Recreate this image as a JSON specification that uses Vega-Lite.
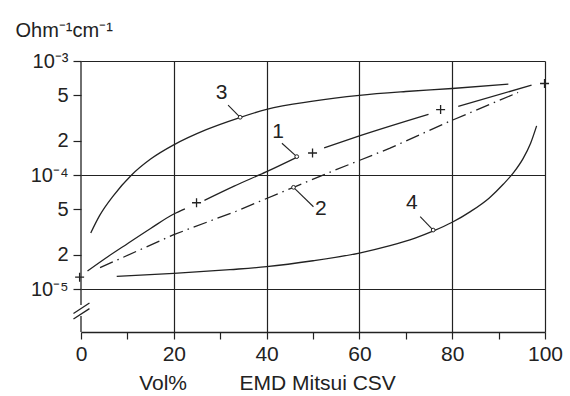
{
  "$schema": "https://vega.github.io/schema/vega-lite/v6.json",
  "width": 464,
  "height": 271,
  "autosize": "none",
  "padding": {"left": 81, "top": 61, "right": 25, "bottom": 64},
  "background": "white",
  "config": {
    "view": {"stroke": null},
    "font": "Liberation Sans",
    "axis": {"labelFont": "Liberation Sans", "titleFont": "Liberation Sans"}
  },
  "datasets": {
    "curves": [
      {"curve": "3", "seg": "3", "x": 2.1, "y": 3.1e-5},
      {"curve": "3", "seg": "3", "x": 4, "y": 4.4e-5},
      {"curve": "3", "seg": "3", "x": 7, "y": 6.6e-5},
      {"curve": "3", "seg": "3", "x": 10.9, "y": 1.0e-4},
      {"curve": "3", "seg": "3", "x": 15, "y": 1.38e-4},
      {"curve": "3", "seg": "3", "x": 20, "y": 1.84e-4},
      {"curve": "3", "seg": "3", "x": 27, "y": 2.5e-4},
      {"curve": "3", "seg": "3", "x": 33.9, "y": 3.16e-4},
      {"curve": "3", "seg": "3", "x": 40, "y": 3.77e-4},
      {"curve": "3", "seg": "3", "x": 50, "y": 4.45e-4},
      {"curve": "3", "seg": "3", "x": 60, "y": 5.0e-4},
      {"curve": "3", "seg": "3", "x": 70, "y": 5.4e-4},
      {"curve": "3", "seg": "3", "x": 80, "y": 5.74e-4},
      {"curve": "3", "seg": "3", "x": 92.1, "y": 6.27e-4},
      {"curve": "1", "seg": "1a", "x": 1.4, "y": 1.44e-5},
      {"curve": "1", "seg": "1a", "x": 6, "y": 1.95e-5},
      {"curve": "1", "seg": "1a", "x": 10, "y": 2.5e-5},
      {"curve": "1", "seg": "1a", "x": 15, "y": 3.4e-5},
      {"curve": "1", "seg": "1a", "x": 20, "y": 4.55e-5},
      {"curve": "1", "seg": "1a", "x": 22.4, "y": 5.05e-5},
      {"curve": "1", "seg": "1b", "x": 26.6, "y": 6.0e-5},
      {"curve": "1", "seg": "1b", "x": 33, "y": 8.0e-5},
      {"curve": "1", "seg": "1b", "x": 40, "y": 1.07e-4},
      {"curve": "1", "seg": "1b", "x": 46.5, "y": 1.43e-4},
      {"curve": "1", "seg": "1c", "x": 52.4, "y": 1.73e-4},
      {"curve": "1", "seg": "1c", "x": 60, "y": 2.2e-4},
      {"curve": "1", "seg": "1c", "x": 74.9, "y": 3.4e-4},
      {"curve": "1", "seg": "1d", "x": 81.3, "y": 4.0e-4},
      {"curve": "1", "seg": "1d", "x": 97.1, "y": 6.14e-4},
      {"curve": "4", "seg": "4", "x": 7.7, "y": 1.29e-5},
      {"curve": "4", "seg": "4", "x": 20, "y": 1.37e-5},
      {"curve": "4", "seg": "4", "x": 32.1, "y": 1.48e-5},
      {"curve": "4", "seg": "4", "x": 40, "y": 1.57e-5},
      {"curve": "4", "seg": "4", "x": 50, "y": 1.77e-5},
      {"curve": "4", "seg": "4", "x": 60, "y": 2.07e-5},
      {"curve": "4", "seg": "4", "x": 66.6, "y": 2.4e-5},
      {"curve": "4", "seg": "4", "x": 72, "y": 2.8e-5},
      {"curve": "4", "seg": "4", "x": 76.1, "y": 3.25e-5},
      {"curve": "4", "seg": "4", "x": 80, "y": 3.85e-5},
      {"curve": "4", "seg": "4", "x": 84, "y": 4.8e-5},
      {"curve": "4", "seg": "4", "x": 88, "y": 6.3e-5},
      {"curve": "4", "seg": "4", "x": 91, "y": 8.3e-5},
      {"curve": "4", "seg": "4", "x": 93.3, "y": 1.06e-4},
      {"curve": "4", "seg": "4", "x": 95.3, "y": 1.4e-4},
      {"curve": "4", "seg": "4", "x": 96.9, "y": 1.9e-4},
      {"curve": "4", "seg": "4", "x": 98.2, "y": 2.7e-4},
      {"curve": "2", "seg": "2", "x": 4.1, "y": 1.54e-5},
      {"curve": "2", "seg": "2", "x": 20, "y": 3.0e-5},
      {"curve": "2", "seg": "2", "x": 33.4, "y": 4.81e-5},
      {"curve": "2", "seg": "2", "x": 45.8, "y": 7.8e-5},
      {"curve": "2", "seg": "2", "x": 54.4, "y": 1.09e-4},
      {"curve": "2", "seg": "2", "x": 66.6, "y": 1.72e-4},
      {"curve": "2", "seg": "2", "x": 79.2, "y": 2.93e-4},
      {"curve": "2", "seg": "2", "x": 94.2, "y": 5.3e-4}
    ],
    "plus": [
      {"x": -0.3, "y": 1.27e-5},
      {"x": 24.9, "y": 5.71e-5},
      {"x": 49.9, "y": 1.56e-4},
      {"x": 77.5, "y": 3.75e-4},
      {"x": 99.9, "y": 6.35e-4}
    ],
    "leaders": [
      {"curve": "3", "x": 31.7, "y": 4.11e-4},
      {"curve": "3", "x": 34.3, "y": 3.21e-4},
      {"curve": "1", "x": 43.3, "y": 1.9e-4},
      {"curve": "1", "x": 46.5, "y": 1.45e-4},
      {"curve": "2", "x": 45.8, "y": 7.8e-5},
      {"curve": "2", "x": 50.1, "y": 5.27e-5},
      {"curve": "4", "x": 73.1, "y": 4.31e-5},
      {"curve": "4", "x": 75.9, "y": 3.29e-5}
    ],
    "anchors": [
      {"curve": "3", "x": 34.3, "y": 3.21e-4},
      {"curve": "1", "x": 46.5, "y": 1.45e-4},
      {"curve": "2", "x": 45.8, "y": 7.8e-5},
      {"curve": "4", "x": 75.9, "y": 3.29e-5}
    ],
    "labels": [
      {"curve": "3", "x": 30.3, "y": 5.21e-4},
      {"curve": "1", "x": 42.5, "y": 2.4e-4},
      {"curve": "2", "x": 51.7, "y": 5.0e-5},
      {"curve": "4", "x": 71.3, "y": 5.65e-5}
    ]
  },
  "layer": [
    {
      "data": {"name": "curves"},
      "transform": [{"filter": "datum.curve == '3' || datum.curve == '4'"}],
      "mark": {"type": "line", "interpolate": "monotone", "color": "#222", "strokeWidth": 1.3, "clip": false},
      "encoding": {
        "x": {
          "field": "x", "type": "quantitative",
          "scale": {"domain": [0, 100], "nice": false, "zero": false},
          "axis": {
            "values": [0, 10, 20, 30, 40, 50, 60, 70, 80, 90, 100],
            "labelExpr": "datum.value % 20 == 0 ? datum.label : ''",
            "domain": true, "domainColor": "#222", "domainWidth": 1.3,
            "ticks": true, "tickColor": "#222", "tickSize": 7, "tickWidth": 1.2,
            "grid": true, "gridColor": "#222", "gridWidth": 1.2,
            "gridOpacity": {"condition": {"test": "datum.value > 0 && datum.value % 20 == 0", "value": 1}, "value": 0},
            "labelFontSize": 21, "labelColor": "#222", "labelPadding": 4, "labelFlush": false,
            "title": "Vol%\u00a0\u00a0\u00a0\u00a0\u00a0\u00a0\u00a0\u00a0\u00a0EMD Mitsui CSV",
            "titleFontSize": 21, "titleFontWeight": "normal", "titleColor": "#222",
            "titleX": 186, "titleY": 51, "titleAlign": "center", "titleBaseline": "middle"
          }
        },
        "y": {
          "field": "y", "type": "quantitative",
          "scale": {"type": "log", "domain": [4.2e-6, 0.001], "nice": false},
          "axis": {
            "values": [0.00001, 0.00002, 0.00005, 0.0001, 0.0002, 0.0005, 0.001],
            "labelExpr": "datum.value > 0.0009 ? '10\u207b\u00b3' : datum.value > 0.0004 ? '5' : datum.value > 0.00015 ? '2' : datum.value > 0.00009 ? '10\u207b\u2074' : datum.value > 0.00004 ? '5' : datum.value > 0.000015 ? '2' : '10\u207b\u2075'",
            "domain": false,
            "ticks": true, "tickColor": "#222", "tickSize": 8, "tickWidth": 1.2,
            "grid": true, "gridColor": "#222", "gridWidth": 1.2,
            "gridOpacity": {"condition": {"test": "abs(log(datum.value)/LN10 - round(log(datum.value)/LN10)) < 0.001", "value": 1}, "value": 0},
            "labelFontSize": 20, "labelColor": "#222", "labelPadding": 5,
            "title": "Ohm\u207b\u00b9cm\u207b\u00b9",
            "titleFontSize": 20, "titleFontWeight": "normal", "titleColor": "#222",
            "titleAngle": 0, "titleX": -66, "titleY": -31, "titleAlign": "left", "titleBaseline": "middle"
          }
        },
        "detail": {"field": "seg"}
      }
    },
    {
      "data": {"name": "curves"},
      "transform": [{"filter": "datum.curve == '1'"}],
      "mark": {"type": "line", "interpolate": "monotone", "color": "#222", "strokeWidth": 1.3, "clip": false},
      "encoding": {
        "x": {"field": "x", "type": "quantitative"},
        "y": {"field": "y", "type": "quantitative"},
        "detail": {"field": "seg"}
      }
    },
    {
      "data": {"name": "curves"},
      "transform": [{"filter": "datum.curve == '2'"}],
      "mark": {"type": "line", "interpolate": "linear", "color": "#222", "strokeWidth": 1.3, "strokeDash": [14, 5, 1.5, 5], "clip": false},
      "encoding": {
        "x": {"field": "x", "type": "quantitative"},
        "y": {"field": "y", "type": "quantitative"}
      }
    },
    {
      "data": {"values": [{}]},
      "mark": {"type": "rule", "color": "#222", "strokeWidth": 1.3},
      "encoding": {
        "x": {"datum": 0, "type": "quantitative"},
        "y": {"datum": 0.001, "type": "quantitative"},
        "y2": {"datum": 7.24e-6}
      }
    },
    {
      "data": {"values": [{}]},
      "mark": {"type": "rule", "color": "#222", "strokeWidth": 1.3},
      "encoding": {
        "x": {"datum": 0, "type": "quantitative"},
        "y": {"datum": 5.79e-6, "type": "quantitative"},
        "y2": {"datum": 4.2e-6}
      }
    },
    {
      "data": {"values": [{}]},
      "mark": {"type": "point", "shape": "M-1,0.3L1,-1M-1,1L1,-0.3", "size": 256, "filled": false, "stroke": "#222", "strokeWidth": 1.3, "opacity": 1},
      "encoding": {
        "x": {"datum": 0.1, "type": "quantitative"},
        "y": {"datum": 6.41e-6, "type": "quantitative"}
      }
    },
    {
      "data": {"name": "leaders"},
      "mark": {"type": "line", "color": "#222", "strokeWidth": 1.1},
      "encoding": {
        "x": {"field": "x", "type": "quantitative"},
        "y": {"field": "y", "type": "quantitative"},
        "detail": {"field": "curve"}
      }
    },
    {
      "data": {"name": "plus"},
      "mark": {"type": "point", "shape": "M-1,0L1,0M0,-1L0,1", "size": 81, "filled": false, "stroke": "#222", "strokeWidth": 1.3, "opacity": 1, "clip": false},
      "encoding": {
        "x": {"field": "x", "type": "quantitative"},
        "y": {"field": "y", "type": "quantitative"}
      }
    },
    {
      "data": {"name": "anchors"},
      "mark": {"type": "point", "shape": "circle", "size": 14, "filled": true, "fill": "white", "stroke": "#222", "strokeWidth": 1, "opacity": 1},
      "encoding": {
        "x": {"field": "x", "type": "quantitative"},
        "y": {"field": "y", "type": "quantitative"}
      }
    },
    {
      "data": {"name": "labels"},
      "mark": {"type": "text", "fontSize": 21, "color": "#222", "align": "center", "baseline": "middle"},
      "encoding": {
        "x": {"field": "x", "type": "quantitative"},
        "y": {"field": "y", "type": "quantitative"},
        "text": {"field": "curve"}
      }
    }
  ]
}
